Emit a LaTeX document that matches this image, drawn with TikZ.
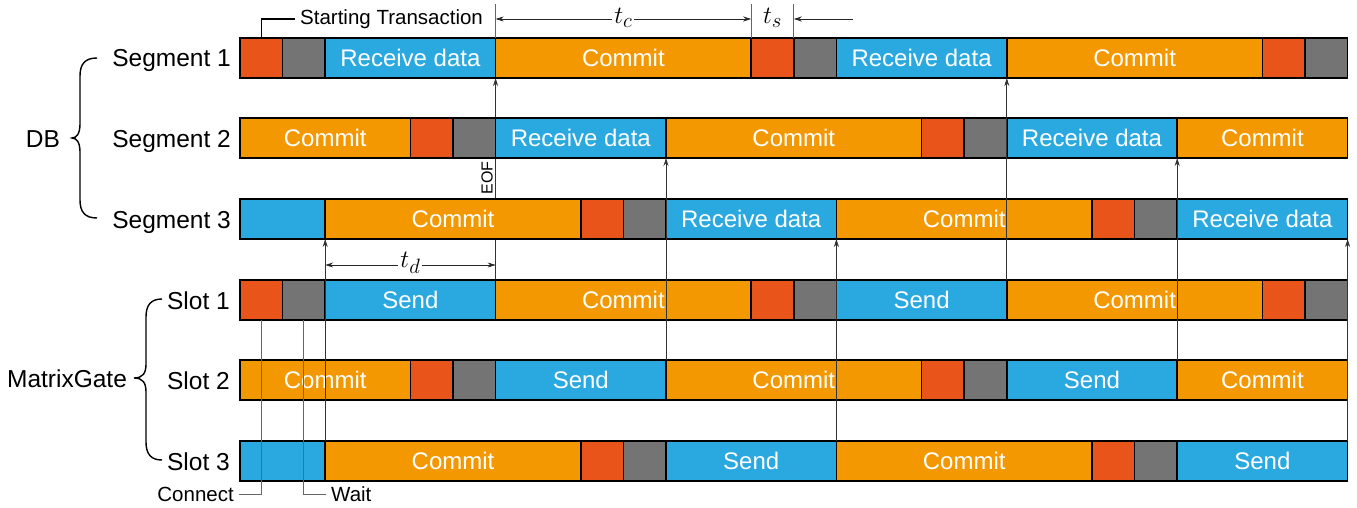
\documentclass[tikz,border=0pt]{standalone}
\usepackage{fontspec}
\setmainfont{Liberation Sans}
\usetikzlibrary{arrows.meta}
\definecolor{cred}{HTML}{E8541A}
\definecolor{cgray}{HTML}{747474}
\definecolor{cblue}{HTML}{2AA8E0}
\definecolor{corange}{HTML}{F39800}
\newcommand\blk[6]{\node[#2, minimum width={#4*42.6pt}, anchor=west] (#1) at ({240+#3*42.6},#5) {#6};}
\tikzset{
  bar/.style={draw=black, line width=1.6pt, minimum height=40pt, inner sep=0pt, outer sep=0pt,
    text=white, font=\fontsize{24}{28}\selectfont},
  xr/.style={bar, fill=cred},
  xg/.style={bar, fill=cgray},
  xb/.style={bar, fill=cblue},
  xo/.style={bar, fill=corange},
  lbl/.style={font=\fontsize{24.5}{28}\selectfont, inner sep=0pt},
  small/.style={font=\fontsize{20.5}{23}\selectfont, inner sep=0pt},
  sig/.style={draw=black!80, line width=0.8pt, -{Stealth[length=8pt,width=5pt]}},
  dim/.style={draw=black!85, line width=0.8pt},
  thin/.style={draw=black!60, line width=0.9pt},
  mathl/.style={font=\fontsize{30}{34}\selectfont, inner sep=2pt},
  brace/.style={draw=black, line width=1.4pt}
}
\begin{document}
\begin{tikzpicture}[x=1pt,y=-1pt]
\useasboundingbox (0,0) rectangle (1357,508);
% first signal arrow (drawn behind the bars)
\coordinate (a1s) at ({240+6*42.6},280);
\coordinate (a1e) at ({240+6*42.6},78);
\draw[sig] (a1s) -- (a1e);
% Segment 1
\blk{d1x0}{xr}{0}{1}{58}{}
\blk{d1g0}{xg}{1}{1}{58}{}
\blk{d1r1}{xb}{2}{4}{58}{Receive data}
\blk{d1c1}{xo}{6}{6}{58}{Commit}
\blk{d1x1}{xr}{12}{1}{58}{}
\blk{d1g1}{xg}{13}{1}{58}{}
\blk{d1r2}{xb}{14}{4}{58}{Receive data}
\blk{d1c2}{xo}{18}{6}{58}{Commit}
\blk{d1x2}{xr}{24}{1}{58}{}
\blk{d1g2}{xg}{25}{1}{58}{}
% Segment 2
\blk{d2c0}{xo}{0}{4}{138}{Commit}
\blk{d2x0}{xr}{4}{1}{138}{}
\blk{d2g0}{xg}{5}{1}{138}{}
\blk{d2r1}{xb}{6}{4}{138}{Receive data}
\blk{d2c1}{xo}{10}{6}{138}{Commit}
\blk{d2x1}{xr}{16}{1}{138}{}
\blk{d2g1}{xg}{17}{1}{138}{}
\blk{d2r2}{xb}{18}{4}{138}{Receive data}
\blk{d2c2}{xo}{22}{4}{138}{Commit}
% Segment 3
\blk{d3b0}{xb}{0}{2}{219}{}
\blk{d3c0}{xo}{2}{6}{219}{Commit}
\blk{d3x0}{xr}{8}{1}{219}{}
\blk{d3g0}{xg}{9}{1}{219}{}
\blk{d3r1}{xb}{10}{4}{219}{Receive data}
\blk{d3c1}{xo}{14}{6}{219}{Commit}
\blk{d3x1}{xr}{20}{1}{219}{}
\blk{d3g1}{xg}{21}{1}{219}{}
\blk{d3r2}{xb}{22}{4}{219}{Receive data}
% Slot 1
\blk{m1x0}{xr}{0}{1}{300}{}
\blk{m1g0}{xg}{1}{1}{300}{}
\blk{m1s1}{xb}{2}{4}{300}{Send}
\blk{m1c1}{xo}{6}{6}{300}{Commit}
\blk{m1x1}{xr}{12}{1}{300}{}
\blk{m1g1}{xg}{13}{1}{300}{}
\blk{m1s2}{xb}{14}{4}{300}{Send}
\blk{m1c2}{xo}{18}{6}{300}{Commit}
\blk{m1x2}{xr}{24}{1}{300}{}
\blk{m1g2}{xg}{25}{1}{300}{}
% Slot 2
\blk{m2c0}{xo}{0}{4}{380}{Commit}
\blk{m2x0}{xr}{4}{1}{380}{}
\blk{m2g0}{xg}{5}{1}{380}{}
\blk{m2s1}{xb}{6}{4}{380}{Send}
\blk{m2c1}{xo}{10}{6}{380}{Commit}
\blk{m2x1}{xr}{16}{1}{380}{}
\blk{m2g1}{xg}{17}{1}{380}{}
\blk{m2s2}{xb}{18}{4}{380}{Send}
\blk{m2c2}{xo}{22}{4}{380}{Commit}
% Slot 3
\blk{m3s0}{xb}{0}{2}{461}{}
\blk{m3c0}{xo}{2}{6}{461}{Commit}
\blk{m3x0}{xr}{8}{1}{461}{}
\blk{m3g0}{xg}{9}{1}{461}{}
\blk{m3s1}{xb}{10}{4}{461}{Send}
\blk{m3c1}{xo}{14}{6}{461}{Commit}
\blk{m3x1}{xr}{20}{1}{461}{}
\blk{m3g1}{xg}{21}{1}{461}{}
\blk{m3s2}{xb}{22}{4}{461}{Send}
% signal arrows on top
\draw[sig] (m3s0.north east) -- (d3b0.south east);
\draw[sig] (m2s1.north east) -- (d2r1.south east);
\draw[sig] (m3s1.north east) -- (d3r1.south east);
\draw[sig] (m1s2.north east) -- (d1r2.south east);
\draw[sig] (m2s2.north east) -- (d2r2.south east);
\draw[sig] (m3s2.north east) -- (d3r2.south east);
% row labels
\node[lbl, anchor=base east] (l1) at (231,67) {Segment 1};
\node[lbl, anchor=base east] (l2) at (231,147) {Segment 2};
\node[lbl, anchor=base east] (l3) at (231,228) {Segment 3};
\node[lbl, anchor=base east] (l4) at (230,309) {Slot 1};
\node[lbl, anchor=base east] (l5) at (230,389) {Slot 2};
\node[lbl, anchor=base east] (l6) at (230,470) {Slot 3};
\node[lbl, anchor=base] (db) at (43,147) {DB};
\node[lbl, anchor=base] (mg) at (67,387) {MatrixGate};
% braces
\draw[brace] (97,58) .. controls (85,58) and (80,64) .. (80,76) -- (80,124)
  .. controls (80,133) and (77,138) .. (72,138) .. controls (77,138) and (80,143) .. (80,152)
  -- (80,200) .. controls (80,212) and (85,218) .. (97,218);
\draw[brace] (162,299) .. controls (151,299) and (146,305) .. (146,317) -- (146,364)
  .. controls (146,373) and (143,378) .. (134,378) .. controls (143,378) and (146,383) .. (146,392)
  -- (146,442) .. controls (146,454) and (151,460) .. (162,460);
% extension lines at the top
\coordinate (e1) at ({240+6*42.6},4);
\coordinate (e2) at ({240+12*42.6},4);
\coordinate (e3) at ({240+13*42.6},4);
\draw[thin] (d1r1.north east) -- (e1);
\draw[thin] (d1c1.north east) -- (e2);
\draw[thin] (d1x1.north east) -- (e3);
% t_c dimension
\coordinate (tcl) at ({240+6*42.6},19);
\coordinate (tcr) at ({240+12*42.6},19);
\draw[dim, {Stealth[length=8pt,width=5pt]}-{Stealth[length=8pt,width=5pt]}] (tcl) -- (tcr);
\node[mathl, fill=white] (tc) at ({240+9*42.6},18) {$t_c$};
\node[mathl] (ts) at ({240+12.5*42.6},18) {$t_s$};
\coordinate (tsr) at (853,19);
\coordinate (tsl) at ({240+13*42.6},19);
\draw[dim, -{Stealth[length=8pt,width=5pt]}] (tsr) -- (tsl);
% t_d dimension
\coordinate (tdl) at ({240+2*42.6},265);
\coordinate (tdr) at ({240+6*42.6},265);
\draw[dim, {Stealth[length=8pt,width=5pt]}-{Stealth[length=8pt,width=5pt]}] (tdl) -- (tdr);
\node[mathl, fill=white] (td) at ({240+4*42.6},263) {$t_d$};
% EOF
\node[font=\fontsize{16}{18}\selectfont, rotate=90, inner sep=0pt] (eof) at (487,178) {EOF};
% Starting Transaction
\node[small, anchor=west] (st) at (300,19) {Starting Transaction};
\draw[draw=black, line width=1.2pt] (d1x0.north) |- ([xshift=-5pt]st.west);
% Connect / Wait
\node[small, anchor=east] (cn) at (234,494) {Connect};
\node[small, anchor=west] (wt) at (331,494) {Wait};
\draw[thin] (m1x0.south) |- ([xshift=5pt]cn.east);
\draw[thin] (m1g0.south) |- ([xshift=-5pt]wt.west);
\end{tikzpicture}
\end{document}
